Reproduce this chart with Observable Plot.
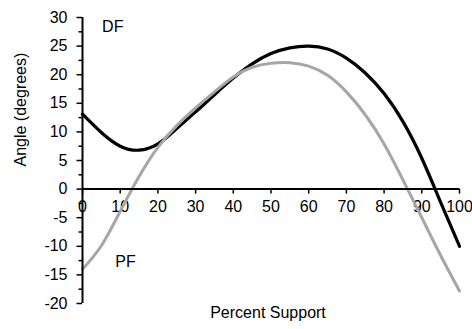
<!DOCTYPE html>
<html>
<head>
<meta charset="utf-8">
<script src="https://cdn.jsdelivr.net/npm/d3@7"></script>
<script src="https://cdn.jsdelivr.net/npm/@observablehq/plot@0.6"></script>
<style>
  html, body { margin: 0; padding: 0; background: #fff; }
  #chart svg { display: block; }
</style>
</head>
<body>
<div id="chart"></div>
<script>
// Percent support (x) samples
const percent = [0, 5, 10, 15, 20, 25, 30, 35, 40, 45, 50, 55, 60, 65, 70, 75, 80, 85, 90, 95, 100];
// DF angle (degrees)
const dfAngle = [13.1, 9.9, 7.5, 6.8, 7.9, 10.6, 13.5, 16.5, 19.4, 21.9, 23.7, 24.7, 25.0, 24.5, 22.9, 20.3, 16.7, 11.8, 5.4, -2.3, -10.0];
// PF angle (degrees)
const pfAngle = [-14.0, -9.9, -3.9, 2.2, 7.3, 11.1, 14.2, 17.0, 19.6, 21.3, 22.0, 22.1, 21.5, 19.9, 17.0, 13.0, 7.9, 1.6, -5.0, -11.6, -17.8];

const xTicks = [0, 10, 20, 30, 40, 50, 60, 70, 80, 90, 100];
const yTicks = [-20, -15, -10, -5, 0, 5, 10, 15, 20, 25, 30];
const yMinorTicks = [-17.5, -12.5, -7.5, -2.5, 2.5, 7.5, 12.5, 17.5, 22.5, 27.5];

const seriesLabels = [
  {x: 5.2, y: 28.4, text: "DF"},
  {x: 8.7, y: -12.7, text: "PF"}
];
const xTitle = "Percent Support";
const yTitle = "Angle (degrees)";

const rows = percent.map((p, i) => ({p, df: dfAngle[i], pf: pfAngle[i]}));

const chart = Plot.plot({
  width: 472,
  height: 329,
  marginLeft: 82,
  marginRight: 13,
  marginTop: 17,
  marginBottom: 26,
  x: {domain: [0, 100], axis: null},
  y: {domain: [-20, 30], axis: null},
  style: {fontFamily: "'Liberation Sans', Arial, sans-serif", fontSize: "16px", color: "#000", background: "#fff"},
  marks: [
    // y axis minor ticks
    Plot.ruleY(yMinorTicks, {y: d => d, x1: 0, x2: 0, insetLeft: -3.5, stroke: "#000", strokeWidth: 1.5}),
    // y axis major ticks
    Plot.ruleY(yTicks, {y: d => d, x1: 0, x2: 0, insetLeft: -5.5, stroke: "#000", strokeWidth: 1.5}),
    Plot.text(yTicks, {x: 0, y: d => d, text: d => String(d), textAnchor: "end", dx: -15, fill: "#000", fontSize: 16}),
    // x axis ticks at y = 0
    Plot.ruleX(xTicks, {x: d => d, y1: 0, y2: 0, insetBottom: -5, stroke: "#000", strokeWidth: 1.5}),
    Plot.text(xTicks, {x: d => d, y: 0, text: d => String(d), lineAnchor: "top", dy: 12, fill: "#000", fontSize: 16}),
    // series
    Plot.line(rows, {x: "p", y: "df", stroke: "#000", strokeWidth: 3.2, curve: "natural"}),
    Plot.line(rows, {x: "p", y: "pf", stroke: "#a6a6a6", strokeWidth: 3, curve: "natural"}),
    // axis lines
    Plot.ruleX([0], {y1: -20, y2: 30, stroke: "#000", strokeWidth: 2}),
    Plot.ruleY([0], {x1: 0, x2: 100, stroke: "#000", strokeWidth: 2}),
    // series labels
    Plot.text(seriesLabels, {x: "x", y: "y", text: "text", textAnchor: "start", fill: "#000", fontSize: 16}),
    // axis titles
    Plot.text([xTitle], {frameAnchor: "bottom", text: d => d, dy: 14, dx: -3, fill: "#000", fontSize: 16}),
    Plot.text([yTitle], {frameAnchor: "left", text: d => d, rotate: -90, dx: -62, dy: 6, fill: "#000", fontSize: 16})
  ]
});

document.getElementById("chart").appendChild(chart);
</script>
</body>
</html>
